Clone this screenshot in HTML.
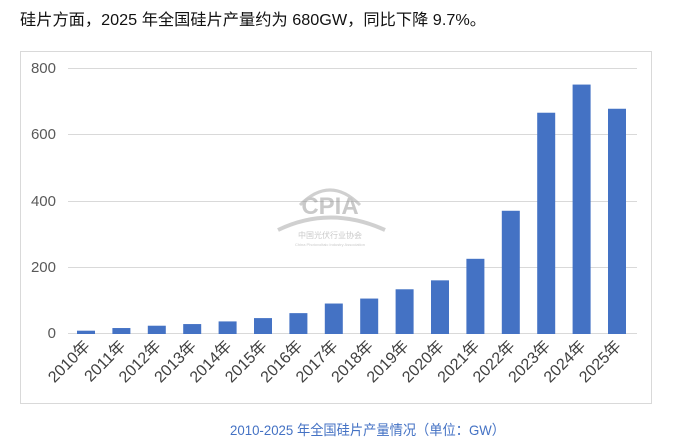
<!DOCTYPE html>
<html><head><meta charset="utf-8"><style>
body{margin:0;width:675px;height:443px;background:#fff;overflow:hidden;font-family:"Liberation Sans","Noto Sans CJK SC",sans-serif}
</style></head><body>
<svg width="675" height="443" xmlns="http://www.w3.org/2000/svg" font-family="Liberation Sans, Noto Sans CJK SC, sans-serif">
<text x="20" y="25" font-size="16" fill="#111" textLength="466" lengthAdjust="spacingAndGlyphs">硅片方面，2025 年全国硅片产量约为 680GW，同比下降 9.7%。</text>
<rect x="20.5" y="51.5" width="631" height="352" fill="none" stroke="#d9d9d9"/>
<g stroke="#d9d9d9" stroke-width="1">
<line x1="68" x2="637" y1="68.5" y2="68.5"/>
<line x1="68" x2="637" y1="134.5" y2="134.5"/>
<line x1="68" x2="637" y1="201.5" y2="201.5"/>
<line x1="68" x2="637" y1="267.5" y2="267.5"/>
<line x1="68" x2="637" y1="333.5" y2="333.5"/>
</g>
<g font-size="15" fill="#595959" text-anchor="end">
<text x="56" y="73">800</text><text x="56" y="139">600</text><text x="56" y="206">400</text><text x="56" y="272">200</text><text x="56" y="338">0</text>
</g>
<g opacity="0.45" fill="#888" text-anchor="middle">
<path d="M300 205 Q330 175 360 205" stroke="#999" stroke-width="3" fill="none"/>
<text x="330" y="214" font-size="24" font-weight="bold">CPIA</text>
<path d="M278 230 Q330 205 385 230" stroke="#999" stroke-width="4" fill="none"/>
<text x="330" y="238" font-size="8">中国光伏行业协会</text>
<text x="330" y="246" font-size="4">China Photovoltaic Industry Association</text>
</g>
<g fill="#4472c4" id="bars"></g>
<g font-size="16" fill="#404040" id="labels"></g>
<text x="230" y="435" font-size="14" fill="#4472c4" textLength="275" lengthAdjust="spacingAndGlyphs">2010-2025 年全国硅片产量情况（单位：GW）</text>
<script>
var v=[10,18,25,30,38,48,63,92,107,135,162,227,372,668,753,680];
var b=document.getElementById('bars'),l=document.getElementById('labels'),ns='http://www.w3.org/2000/svg';
for(var i=0;i<16;i++){var cx=86+i*35.4,h=v[i]*265/800;
var r=document.createElementNS(ns,'rect');r.setAttribute('x',cx-9);r.setAttribute('y',334-h);r.setAttribute('width',18);r.setAttribute('height',h);b.appendChild(r);
var t=document.createElementNS(ns,'text');t.setAttribute('text-anchor','end');t.setAttribute('transform','translate('+(cx+5)+',347) rotate(-45)');t.textContent=(2010+i)+'年';l.appendChild(t);}
</script>
</svg>
</body></html>
